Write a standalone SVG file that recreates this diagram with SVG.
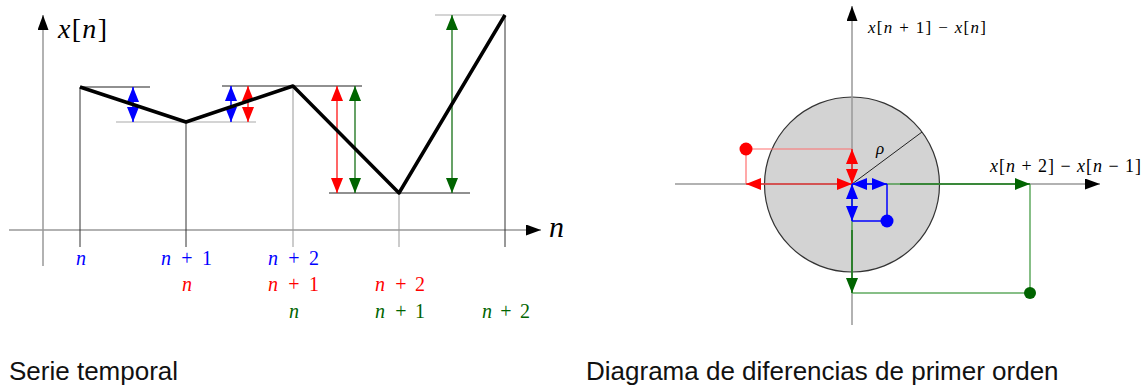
<svg xmlns="http://www.w3.org/2000/svg" width="1142" height="388" viewBox="0 0 1142 388">
<style>
.ax{stroke:#999;stroke-width:1.5;fill:none}
.vl{stroke:#333;stroke-width:1;fill:none}
.vg{stroke:#999;stroke-width:1;fill:none}
.hl{stroke:#222;stroke-width:1.2;fill:none}
.hg{stroke:#aaa;stroke-width:1.2;fill:none}
.m{font-family:"Liberation Serif","DejaVu Serif",serif}
.i{font-style:italic}
.cap{font-family:"Liberation Sans",Arial,sans-serif;font-size:26px;fill:#111}
.b{fill:#0000ff}.r{fill:#ff0000}.g{fill:#006400}
.lb{stroke:#0000ff;stroke-width:1.5;fill:none}
.lr{stroke:#ff0000;stroke-width:1.2;fill:none}
.lr2{stroke:#ff7070;stroke-width:1.2;fill:none}
.lg{stroke:#006400;stroke-width:1.2;fill:none}
.lg2{stroke:#5faa5f;stroke-width:1.5;fill:none}
</style>
<defs>
<marker id="hb" viewBox="0 0 15 12" markerUnits="userSpaceOnUse" markerWidth="15" markerHeight="12" refX="15" refY="6" orient="auto-start-reverse"><path d="M0,0 L15,6 L0,12 z" fill="#0000ff"/></marker>
<marker id="hr" viewBox="0 0 15 12" markerUnits="userSpaceOnUse" markerWidth="15" markerHeight="12" refX="15" refY="6" orient="auto-start-reverse"><path d="M0,0 L15,6 L0,12 z" fill="#ff0000"/></marker>
<marker id="hg" viewBox="0 0 15 12" markerUnits="userSpaceOnUse" markerWidth="15" markerHeight="12" refX="15" refY="6" orient="auto-start-reverse"><path d="M0,0 L15,6 L0,12 z" fill="#006400"/></marker>
<marker id="hk" viewBox="0 0 15 11" markerUnits="userSpaceOnUse" markerWidth="15" markerHeight="11" refX="15" refY="5.5" orient="auto"><path d="M0,0 L15,5.5 L0,11 z" fill="#000"/></marker>
</defs>
<rect width="1142" height="388" fill="#fff"/>

<g id="timeseries">
<g id="ts-axes">
<line class="ax" x1="43" y1="266" x2="43" y2="15" marker-end="url(#hk)"/>
<line class="ax" x1="9" y1="230" x2="541" y2="230" marker-end="url(#hk)"/>
<text class="m i" x="58" y="38" font-size="28" textLength="49"><tspan>x</tspan><tspan font-style="normal">[</tspan>n<tspan font-style="normal">]</tspan></text>
<text class="m i" x="549" y="237" font-size="30">n</text>
</g>
<g id="ts-guides">
<line class="vl" x1="80" y1="87" x2="80" y2="247"/>
<line class="vl" x1="186" y1="122" x2="186" y2="247"/>
<line class="vg" x1="293" y1="86" x2="293" y2="247"/>
<line class="vg" x1="399" y1="193" x2="399" y2="247"/>
<line class="vl" x1="505" y1="15" x2="505" y2="247"/>
<line class="hl" x1="80" y1="87" x2="150" y2="87"/>
<line class="hg" x1="116" y1="122" x2="256" y2="122"/>
<line class="hl" x1="222" y1="86" x2="362" y2="86"/>
<line class="hl" x1="329" y1="193" x2="470" y2="193"/>
<line class="hg" x1="435" y1="15" x2="505" y2="15"/>
</g>
<g id="ts-arrows">
<line class="lb" x1="133" y1="87" x2="133" y2="122" marker-start="url(#hb)" marker-end="url(#hb)"/>
<line class="lb" x1="231" y1="86" x2="231" y2="122" marker-start="url(#hb)" marker-end="url(#hb)"/>
<line class="lr" x1="248" y1="86" x2="248" y2="122" marker-start="url(#hr)" marker-end="url(#hr)"/>
<line class="lr" x1="337" y1="86" x2="337" y2="193" marker-start="url(#hr)" marker-end="url(#hr)"/>
<line class="lg" x1="355" y1="86" x2="355" y2="193" marker-start="url(#hg)" marker-end="url(#hg)"/>
<line class="lg" x1="452" y1="15" x2="452" y2="193" marker-start="url(#hg)" marker-end="url(#hg)"/>
</g>
<polyline id="ts-signal" points="80,87 186,122 293,86 399,193 505,15" fill="none" stroke="#000" stroke-width="3.5" stroke-linejoin="round"/>
<g id="ts-labels" class="m" font-size="20" text-anchor="middle">
<text class="b i" x="81" y="265">n</text>
<text class="b" y="265"><tspan class="i" x="166">n</tspan><tspan x="187">+</tspan><tspan x="207">1</tspan></text>
<text class="b" y="265"><tspan class="i" x="273">n</tspan><tspan x="294">+</tspan><tspan x="314">2</tspan></text>
<text class="r i" x="187" y="291">n</text>
<text class="r" y="291"><tspan class="i" x="273">n</tspan><tspan x="294">+</tspan><tspan x="314">1</tspan></text>
<text class="r" y="291"><tspan class="i" x="380">n</tspan><tspan x="401">+</tspan><tspan x="420">2</tspan></text>
<text class="g i" x="294" y="318">n</text>
<text class="g" y="318"><tspan class="i" x="380">n</tspan><tspan x="401">+</tspan><tspan x="420">1</tspan></text>
<text class="g" y="318"><tspan class="i" x="487">n</tspan><tspan x="506">+</tspan><tspan x="525">2</tspan></text>
</g>
<text class="cap" x="9" y="380">Serie temporal</text>
</g>

<g id="phase">
<circle id="ph-disc" cx="852" cy="184.5" r="87.5" fill="#d3d3d3" stroke="#333" stroke-width="1.2"/>
<g id="ph-axes">
<line class="ax" x1="852" y1="325" x2="852" y2="6" marker-end="url(#hk)"/>
<line class="ax" x1="675" y1="184" x2="1100" y2="184" marker-end="url(#hk)"/>
<line x1="852" y1="184" x2="922" y2="132" stroke="#222" stroke-width="1"/>
<text class="m i" x="876" y="154" font-size="17">ρ</text>
<text class="m" x="868" y="33" font-size="17" textLength="118"><tspan class="i">x</tspan>[<tspan class="i">n</tspan> + 1] − <tspan class="i">x</tspan>[<tspan class="i">n</tspan>]</text>
<text class="m" x="990" y="172" font-size="18" textLength="151"><tspan class="i">x</tspan>[<tspan class="i">n</tspan> + 2] − <tspan class="i">x</tspan>[<tspan class="i">n</tspan> − 1]</text>
</g>
<g id="ph-green">
<line class="lg2" x1="852" y1="184" x2="1030" y2="184"/>
<line class="lg2" x1="1030" y1="184" x2="1030" y2="293"/>
<line class="lg2" x1="852" y1="293" x2="1030" y2="293"/>
<line class="lg2" x1="852" y1="184" x2="852" y2="293"/>
<line class="lg" x1="900" y1="184" x2="1030" y2="184" marker-end="url(#hg)"/>
<line class="lg" x1="852" y1="230" x2="852" y2="293" marker-end="url(#hg)"/>
<circle class="g" cx="1030" cy="293" r="6"/>
</g>
<g id="ph-red">
<line class="lr2" x1="746" y1="149" x2="852" y2="149"/>
<line class="lr2" x1="746" y1="149" x2="746" y2="184"/>
<line class="lr" x1="746" y1="184" x2="852" y2="184" marker-start="url(#hr)" marker-end="url(#hr)"/>
<line class="lr" x1="852" y1="149" x2="852" y2="184" marker-start="url(#hr)" marker-end="url(#hr)"/>
<circle class="r" cx="746" cy="149" r="6.5"/>
</g>
<g id="ph-blue">
<line class="lb" x1="887" y1="184" x2="887" y2="221"/>
<line class="lb" x1="852" y1="221" x2="887" y2="221"/>
<line class="lb" x1="852" y1="184" x2="887" y2="184" marker-start="url(#hb)" marker-end="url(#hb)"/>
<line class="lb" x1="852" y1="184" x2="852" y2="221" marker-start="url(#hb)" marker-end="url(#hb)"/>
<circle class="b" cx="887" cy="221" r="6.5"/>
</g>
<text class="cap" x="586" y="380">Diagrama de diferencias de primer orden</text>
</g>
</svg>
